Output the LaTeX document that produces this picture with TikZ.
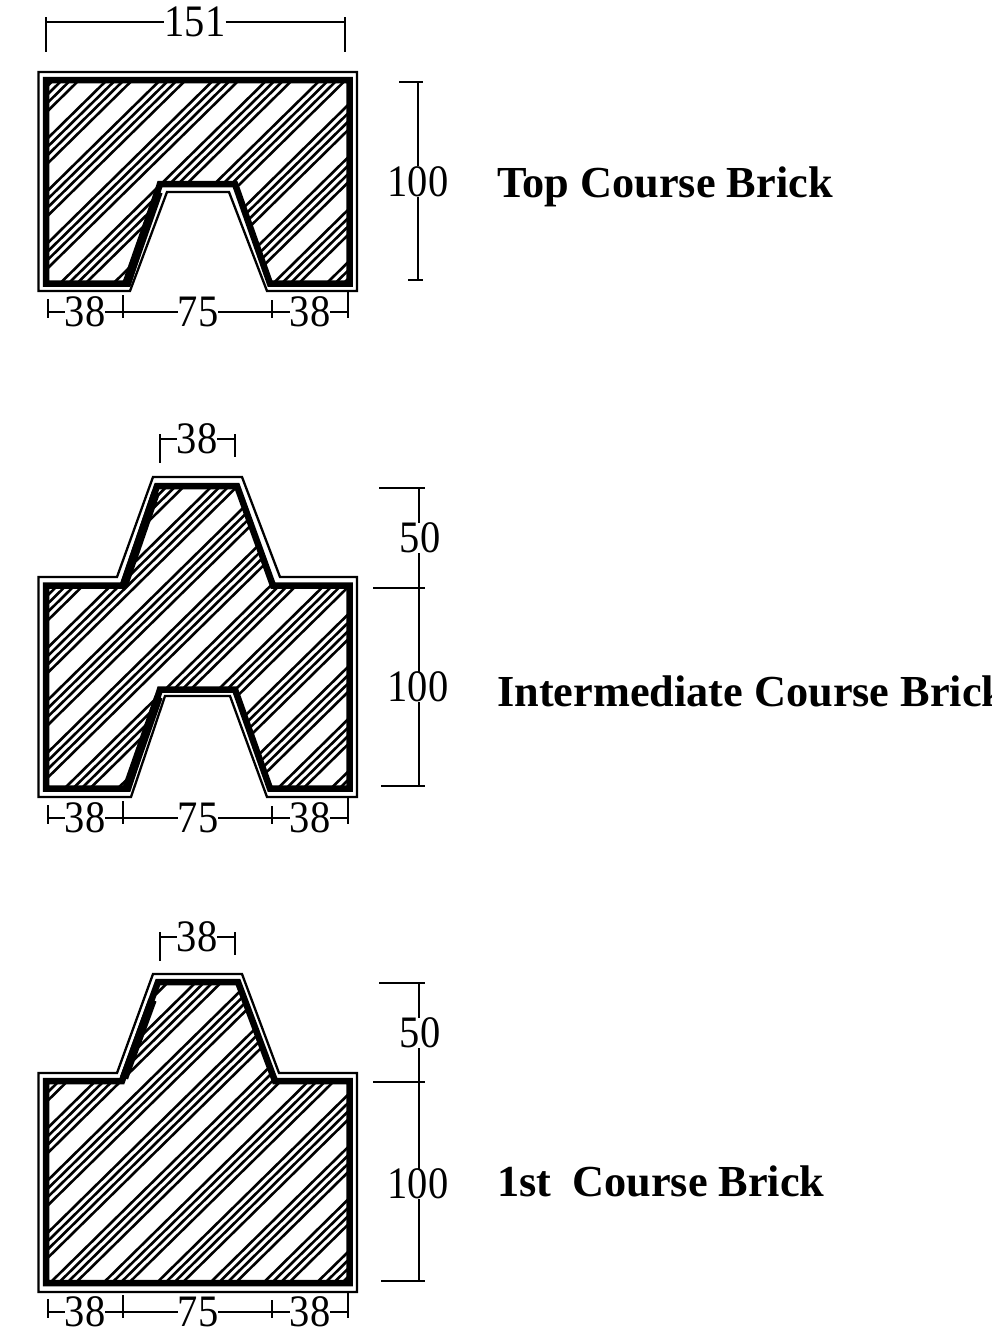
\documentclass[tikz,border=0pt]{standalone}
\usepackage{fontspec}
\setmainfont{Liberation Serif}
\newfontfamily\dimfam[FakeStretch=0.9]{Liberation Serif}
\newcommand{\dimfont}{\dimfam\fontsize{45}{45}\selectfont}
\newcommand{\capfont}{\fontsize{44.3}{44.3}\selectfont\bfseries}
\tikzset{
  outerline/.style={line width=2.3pt,line join=miter},
  thickline/.style={line width=6.5pt,line join=miter},
  heavyslope/.style={line width=8.5pt},
  hatchline/.style={line width=2.6pt},
  dimline/.style={line width=2.2pt},
  dimtext/.style={inner sep=0pt,font=\dimfont},
  captext/.style={inner sep=0pt,anchor=base west,font=\capfont},
}
% hatch: #1 = reference y, #2 = x on that y of the first line of a group
\newcommand{\brickhatch}[2]{%
  \foreach \k in {-12,...,10}{%
    \foreach \o in {0,8.5,17,25.5}{%
      \draw[hatchline] ({#2+53.3*\k+\o+600},{#1-590}) -- ({#2+53.3*\k+\o-600},{#1+590});
    }%
  }%
}
% bottom dimension row at height #1
\newcommand{\bottomdims}[2]{%
  \node[dimtext] (#2a) at (85,#1) {38};
  \node[dimtext] (#2b) at (198,#1) {75};
  \node[dimtext] (#2c) at (310,#1) {38};
  \coordinate (#2t1) at (48,#1);
  \coordinate (#2t2) at (123,#1);
  \coordinate (#2t3) at (272,#1);
  \coordinate (#2t4) at (348,#1);
  \draw[dimline] (#2t1) -- (#2a.west);
  \draw[dimline] (#2a.east) -- (#2t2);
  \draw[dimline] (#2t2) -- (#2b.west);
  \draw[dimline] (#2b.east) -- (#2t3);
  \draw[dimline] (#2t3) -- (#2c.west);
  \draw[dimline] (#2c.east) -- (#2t4);
  \draw[dimline] (48,#1-13) -- (48,#1+6);
  \draw[dimline] (123,#1-17) -- (123,#1+6);
  \draw[dimline] (272,#1-12) -- (272,#1+6);
  \draw[dimline] (348,#1-20) -- (348,#1+6);
}
% top 38 dimension at height #1
\newcommand{\topdims}[2]{%
  \node[dimtext] (#2m) at (197,#1) {38};
  \coordinate (#2l) at (160,#1);
  \coordinate (#2r) at (235,#1);
  \draw[dimline] (#2l) -- (#2m.west);
  \draw[dimline] (#2m.east) -- (#2r);
  \draw[dimline] (160,#1-5) -- (160,#1+24);
  \draw[dimline] (235,#1-5) -- (235,#1+18);
}
% right dims with a 50 part: #1 top, #2 mid, #3 bottom, #4 y of 50, #5 y of 100, #6 prefix
\newcommand{\rightdims}[6]{%
  \node[dimtext] (#6five) at (420,#4) {50};
  \node[dimtext] (#6hun) at (418,#5) {100};
  \coordinate (#6a) at (419,#1);
  \coordinate (#6b) at (419,#2);
  \coordinate (#6c) at (419,#3);
  \draw[dimline] (#6a) -- (#6five.north -| #6a);
  \draw[dimline] (#6five.south -| #6a) -- (#6b);
  \draw[dimline] (#6b) -- (#6hun.north -| #6b);
  \draw[dimline] (#6hun.south -| #6b) -- (#6c);
  \draw[dimline] (379,#1) -- (425,#1);
  \draw[dimline] (373,#2) -- (425,#2);
  \draw[dimline] (381,#3) -- (425,#3);
}
\begin{document}
\begin{tikzpicture}[x=1pt,y=-1pt]
\useasboundingbox (0,0) rectangle (992,1341);
% ---------- Top course
\begin{scope}
  \clip (46,80) -- (349.5,80) -- (349.5,283.5) -- (270,283.5) -- (235,184) -- (160,184) -- (128,283.5) -- (46,283.5) -- cycle;
  \brickhatch{280}{63.5}
\end{scope}
\draw[thickline] (46,80) -- (349.5,80) -- (349.5,283.5) -- (270,283.5) -- (235,184) -- (160,184) -- (128,283.5) -- (46,283.5) -- cycle;
\draw[heavyslope] (158.5,192) -- (127,282);
\draw[outerline] (38.5,72) -- (357,72) -- (357,291) -- (267,291) -- (229,192) -- (167,192) -- (130,291) -- (38.5,291) -- cycle;
\node[dimtext] (w151) at (195,22) {151};
\coordinate (wl) at (46,22);
\coordinate (wr) at (345,22);
\draw[dimline] (wl) -- (w151.west);
\draw[dimline] (w151.east) -- (wr);
\draw[dimline] (46,17) -- (46,52);
\draw[dimline] (345,17) -- (345,52);
\node[dimtext] (h100) at (418,181.5) {100};
\coordinate (ha) at (418,82);
\coordinate (hb) at (418,280);
\draw[dimline] (ha) -- (h100.north -| ha);
\draw[dimline] (h100.south -| ha) -- (hb);
\draw[dimline] (399,82) -- (423,82);
\draw[dimline] (408,280) -- (423,280);
\bottomdims{312}{p}
\node[captext] (capa) at (497,197) {Top Course Brick};
% ---------- Intermediate course
\begin{scope}
  \clip (46,585.5) -- (123,585.5) -- (157,486) -- (237,486) -- (273,585.5) -- (349.5,585.5) -- (349.5,788.5) -- (270,788.5) -- (235,689.5) -- (160,689.5) -- (128,788.5) -- (46,788.5) -- cycle;
  \brickhatch{785}{68}
\end{scope}
\draw[thickline] (46,585.5) -- (123,585.5) -- (157,486) -- (237,486) -- (273,585.5) -- (349.5,585.5) -- (349.5,788.5) -- (270,788.5) -- (235,689.5) -- (160,689.5) -- (128,788.5) -- (46,788.5) -- cycle;
\draw[heavyslope] (156,492) -- (124,585);
\draw[heavyslope] (158.5,697) -- (127,787);
\draw[outerline] (38.5,577) -- (117,577) -- (153,477) -- (242,477) -- (280,577) -- (357,577) -- (357,797) -- (267,797) -- (230,696) -- (165,696) -- (131,797) -- (38.5,797) -- cycle;
\topdims{439}{q}
\rightdims{488}{588}{786}{538}{687}{r}
\bottomdims{818}{s}
\node[captext] (capb) at (497,706) {Intermediate Course Brick};
% ---------- First course
\begin{scope}
  \clip (46,1081) -- (122,1081) -- (158,982) -- (238,982) -- (275,1081) -- (349.5,1081) -- (349.5,1283) -- (46,1283) -- cycle;
  \brickhatch{1280}{53}
\end{scope}
\draw[thickline] (46,1081) -- (122,1081) -- (158,982) -- (238,982) -- (275,1081) -- (349.5,1081) -- (349.5,1283) -- (46,1283) -- cycle;
\draw[heavyslope] (152.5,1000) -- (124,1078);
\draw[outerline] (38.5,1073) -- (117,1073) -- (153,974) -- (242,974) -- (279,1073) -- (357,1073) -- (357,1292) -- (38.5,1292) -- cycle;
\topdims{937}{u}
\rightdims{983}{1082}{1281}{1033}{1184}{v}
\bottomdims{1312}{w}
\node[captext] (capc) at (497,1196) {1st\hspace{21pt}Course Brick};
\end{tikzpicture}
\end{document}
